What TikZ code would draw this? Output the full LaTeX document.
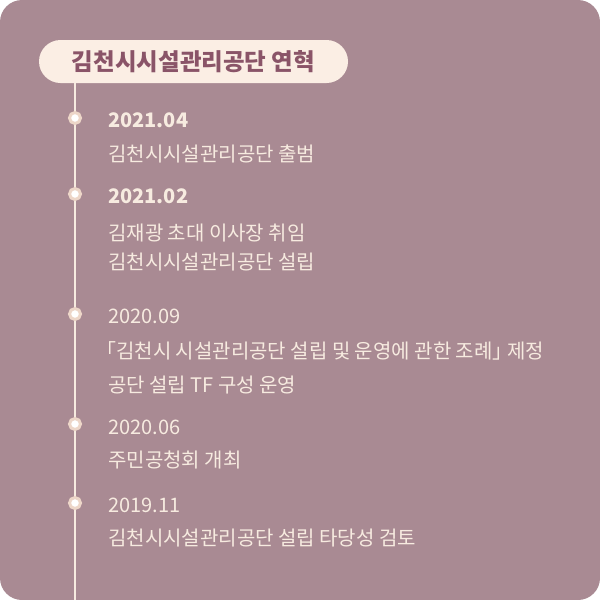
\documentclass[tikz,border=0pt]{standalone}
\usepackage{fontspec}
\setmainfont{Noto Sans CJK KR}
\definecolor{bgmauve}{HTML}{A98A93}
\definecolor{pillfill}{HTML}{FBEEE4}
\definecolor{titletext}{HTML}{8A5468}
\definecolor{cream}{HTML}{F7EBE0}
\definecolor{ring}{HTML}{EDD6C8}
\tikzset{
  item/.style={anchor=base west, inner sep=0pt, text=cream, font=\fontsize{20}{22}\selectfont},
  date/.style={item, font=\fontsize{20}{22}\selectfont\bfseries},
  dot/.style={circle, draw=ring, fill=white, line width=3pt, minimum size=11pt, inner sep=0pt},
}
\newcommand{\halfbr}[1]{{\addfontfeature{RawFeature=+halt}#1}}

\begin{document}
\begin{tikzpicture}[x=1pt, y=-1pt]
\useasboundingbox (0,0) rectangle (600,600);
\fill[white] (0,0) rectangle (600,600);
\fill[bgmauve, rounded corners=22pt] (0,0) rectangle (600,600);

% title
\node[fill=pillfill, rounded corners=21.5pt, minimum width=309pt, minimum height=43pt, inner sep=0pt,
      text=titletext, font=\fontsize{23.5}{26}\selectfont\bfseries] (title) at (193.5, 61.5) {김천시시설관리공단 연혁};

% timeline
\coordinate (linetop) at (75, 83);
\coordinate (linebot) at (75, 600);
\draw[cream, line width=2pt] (linetop) -- (linebot);

\node[dot] (d1) at (75, 118) {};
\node[dot] (d2) at (75, 194) {};
\node[dot] (d3) at (75, 314) {};
\node[dot] (d4) at (75, 424) {};
\node[dot] (d5) at (75, 503) {};

\def\x{108}
\node[date] (t1) at (\x, 127) {2021.04};
\node[item] (t1a) at (\x, 161) {김천시시설관리공단 출범};

\node[date] (t2) at (\x, 203) {2021.02};
\node[item] (t2a) at (\x, 240) {김재광 초대 이사장 취임};
\node[item] (t2b) at (\x, 269) {김천시시설관리공단 설립};

\node[item] (t3) at (\x, 323) {2020.09};
\node[item] (t3a) at (\x - 2, 358) {\halfbr{「}김천시 시설관리공단 설립 및 운영에 관한 조례\halfbr{」} 제정};
\node[item] (t3b) at (\x, 392) {공단 설립 TF 구성 운영};

\node[item] (t4) at (\x, 434) {2020.06};
\node[item] (t4a) at (\x, 467) {주민공청회 개최};

\node[item] (t5) at (\x, 512) {2019.11};
\node[item] (t5a) at (\x, 545) {김천시시설관리공단 설립 타당성 검토};

\end{tikzpicture}
\end{document}
